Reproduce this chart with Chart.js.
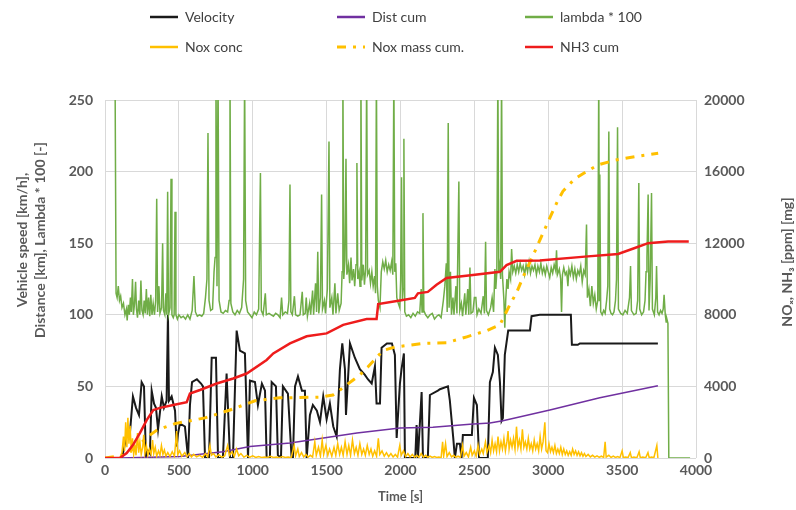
<!DOCTYPE html>
<html>
<head>
<meta charset="utf-8">
<title>Vehicle test – NOx / NH3</title>
<script src="https://cdn.jsdelivr.net/npm/chart.js@4.4.0/dist/chart.umd.min.js"></script>
<style>
  body { margin: 0; background: #fff; }
  #wrap { position: relative; width: 796px; height: 510px; }
  #chart { position: absolute; left: 0; top: 0; }
  .legend-item { position: absolute; height: 18px; line-height: 18px; font: 14px Lato, sans-serif; color: #404040; white-space: nowrap; }
  .legend-item svg { position: absolute; left: -35px; top: 0; }
</style>
</head>
<body>
<div id="wrap">
  <canvas id="chart" width="796" height="510"></canvas>
  <div id="legend"></div>
</div>
<script>
// Time axis / tick settings
const xTicks = [0, 500, 1000, 1500, 2000, 2500, 3000, 3500, 4000];
const leftTicks = [0, 50, 100, 150, 200, 250];
const rightTicks = [0, 4000, 8000, 12000, 16000, 20000];

// Axis titles
const leftTitle = ['Vehicle speed [km/h],', 'Distance [km], Lambda * 100 [-]'];
const rightTitle = 'NOₓ, NH₃ [ppm] [mg]';

// Velocity [km/h]
const velT = [0, 115, 149, 169, 189, 210, 230, 248, 264, 277, 291, 304, 316, 332, 345, 359, 384, 399, 417, 426, 433, 451, 474, 485, 494, 507, 541, 562, 575, 589, 622, 650, 663, 677, 704, 722, 751, 765, 798, 823, 846, 866, 891, 913, 947, 968, 981, 1015, 1035, 1062, 1083, 1094, 1116, 1128, 1157, 1170, 1191, 1204, 1238, 1263, 1272, 1286, 1306, 1333, 1353, 1365, 1387, 1407, 1434, 1455, 1477, 1500, 1522, 1545, 1568, 1590, 1606, 1624, 1631, 1658, 1691, 1725, 1759, 1779, 1805, 1827, 1838, 1861, 1872, 1908, 1942, 1962, 1974, 1996, 2007, 2023, 2030, 2077, 2100, 2109, 2118, 2143, 2152, 2185, 2199, 2253, 2267, 2321, 2334, 2357, 2368, 2382, 2402, 2413, 2422, 2483, 2497, 2517, 2532, 2591, 2605, 2625, 2639, 2659, 2673, 2684, 2693, 2706, 2729, 2876, 2887, 2943, 3153, 3160, 3200, 3214, 3742];
const velV = [0, 0, 17, 18, 43, 35, 30, 53, 50, 0, 5, 3, 47, 38, 35, 20, 43, 35, 40, 100, 40, 43, 33, 8, 17, 24, 22, 0, 37, 53, 55, 52, 50, 0, 0, 70, 70, 0, 0, 59, 0, 0, 89, 75, 73, 0, 54, 53, 37, 52, 47, 0, 0, 53, 50, 2, 0, 50, 45, 0, 0, 50, 57, 47, 47, 0, 30, 37, 33, 25, 43, 27, 38, 22, 15, 62, 80, 62, 30, 80, 70, 62, 58, 55, 52, 64, 38, 38, 77, 80, 80, 72, 14, 52, 62, 73, 0, 0, 0, 23, 0, 46, 0, 0, 44, 47, 48, 50, 40, 14, 0, 10, 10, 0, 16, 16, 42, 37, 0, 0, 53, 60, 77, 72, 53, 26, 28, 72, 89, 89, 99, 100, 100, 79, 79, 80, 80];

// Cumulative distance [km]
const distT = [100, 507, 798, 981, 1252, 1705, 1996, 2219, 2470, 2605, 2693, 3011, 3349, 3742];
const distV = [0, 1, 4.4, 8, 10.5, 17.5, 21, 21.5, 23.5, 24.4, 26, 33.5, 42, 50.5];

// Lambda * 100 [-]
const lamT = [68, 75, 82, 90, 98, 106, 115, 125, 135, 145, 150, 158, 165, 172, 178, 186, 192, 200, 207, 213, 220, 228, 236, 243, 250, 258, 265, 272, 280, 287, 295, 303, 310, 318, 326, 335, 343, 350, 356, 365, 372, 383, 390, 396, 405, 412, 418, 424, 430, 440, 447, 453, 462, 468, 474, 480, 490, 500, 515, 530, 545, 560, 575, 590, 602, 612, 625, 640, 655, 668, 680, 690, 697, 704, 715, 728, 738, 745, 751, 758, 765, 772, 785, 800, 815, 830, 840, 846, 852, 865, 880, 895, 910, 925, 938, 945, 952, 965, 980, 995, 1010, 1025, 1040, 1052, 1058, 1070, 1085, 1092, 1110, 1125, 1140, 1155, 1170, 1185, 1195, 1203, 1220, 1235, 1245, 1252, 1258, 1268, 1282, 1290, 1305, 1320, 1335, 1342, 1355, 1362, 1370, 1385, 1392, 1405, 1412, 1425, 1432, 1440, 1447, 1458, 1466, 1472, 1485, 1492, 1505, 1516, 1522, 1535, 1543, 1556, 1563, 1575, 1585, 1598, 1605, 1610, 1616, 1624, 1631, 1637, 1648, 1656, 1665, 1672, 1682, 1690, 1699, 1705, 1711, 1720, 1726, 1732, 1738, 1748, 1756, 1764, 1771, 1777, 1788, 1797, 1806, 1815, 1825, 1831, 1837, 1843, 1850, 1861, 1870, 1880, 1890, 1900, 1910, 1920, 1930, 1940, 1948, 1955, 1961, 1968, 1975, 1985, 1995, 2001, 2007, 2013, 2018, 2023, 2029, 2040, 2055, 2070, 2085, 2100, 2115, 2130, 2140, 2146, 2152, 2158, 2170, 2185, 2200, 2215, 2230, 2245, 2260, 2275, 2290, 2300, 2310, 2316, 2323, 2329, 2338, 2345, 2355, 2362, 2375, 2382, 2395, 2401, 2412, 2420, 2435, 2442, 2455, 2462, 2470, 2477, 2490, 2500, 2510, 2518, 2530, 2545, 2560, 2568, 2576, 2582, 2595, 2610, 2620, 2630, 2639, 2645, 2652, 2659, 2665, 2672, 2678, 2684, 2690, 2700, 2706, 2712, 2720, 2728, 2735, 2745, 2752, 2760, 2770, 2780, 2790, 2800, 2810, 2820, 2830, 2840, 2850, 2860, 2870, 2880, 2890, 2900, 2910, 2920, 2930, 2940, 2950, 2960, 2970, 2980, 2990, 3000, 3010, 3020, 3030, 3040, 3050, 3056, 3062, 3075, 3084, 3090, 3096, 3105, 3115, 3125, 3133, 3140, 3150, 3160, 3170, 3180, 3190, 3200, 3210, 3220, 3230, 3240, 3250, 3259, 3265, 3275, 3285, 3295, 3305, 3315, 3325, 3335, 3342, 3346, 3349, 3355, 3365, 3375, 3385, 3395, 3403, 3410, 3416, 3425, 3435, 3445, 3455, 3462, 3469, 3475, 3490, 3505, 3520, 3535, 3550, 3557, 3563, 3580, 3595, 3605, 3613, 3619, 3632, 3645, 3655, 3662, 3668, 3676, 3682, 3690, 3699, 3705, 3718, 3728, 3733, 3740, 3750, 3760, 3770, 3778, 3784, 3792, 3798, 3803, 3810, 3816, 3960];
const lamV = [270, 115, 112, 120, 110, 113, 105, 108, 100, 104, 96, 107, 100, 112, 102, 125, 100, 108, 123, 104, 98, 110, 100, 124, 103, 100, 110, 101, 118, 100, 112, 99, 114, 100, 108, 100, 110, 181, 102, 120, 101, 105, 150, 103, 100, 115, 100, 186, 100, 105, 195, 100, 98, 100, 172, 100, 97, 100, 98, 99, 97, 100, 97, 103, 127, 102, 99, 100, 99, 101, 112, 125, 227, 110, 103, 104, 130, 140, 270, 120, 270, 110, 102, 101, 103, 102, 110, 270, 108, 102, 100, 103, 101, 105, 125, 270, 110, 102, 100, 98, 102, 100, 104, 199, 103, 100, 115, 100, 101, 100, 99, 101, 100, 98, 112, 100, 102, 101, 110, 191, 102, 100, 113, 100, 99, 100, 116, 100, 101, 112, 99, 108, 100, 117, 100, 122, 102, 144, 101, 112, 184, 104, 110, 101, 118, 221, 105, 112, 100, 122, 101, 115, 103, 108, 130, 270, 125, 138, 209, 128, 135, 122, 140, 124, 132, 120, 135, 206, 125, 130, 120, 270, 124, 135, 121, 132, 270, 128, 131, 122, 130, 120, 127, 115, 270, 120, 110, 105, 130, 137, 132, 138, 130, 135, 131, 137, 128, 270, 130, 136, 112, 108, 105, 124, 196, 110, 118, 223, 102, 99, 100, 98, 101, 99, 102, 101, 118, 102, 171, 103, 100, 98, 100, 101, 97, 99, 100, 98, 110, 120, 136, 102, 234, 105, 130, 100, 112, 100, 120, 101, 193, 103, 108, 99, 115, 100, 118, 100, 133, 101, 102, 112, 112, 100, 104, 101, 113, 101, 151, 103, 100, 105, 112, 102, 132, 118, 130, 270, 130, 135, 125, 270, 128, 110, 91, 110, 125, 118, 130, 125, 146, 130, 134, 129, 135, 130, 136, 131, 134, 128, 135, 130, 137, 129, 134, 131, 135, 128, 134, 130, 136, 129, 133, 128, 134, 130, 126, 133, 129, 135, 131, 145, 128, 132, 125, 102, 128, 133, 128, 130, 120, 132, 128, 134, 126, 132, 125, 131, 128, 134, 123, 131, 128, 163, 112, 118, 106, 120, 108, 114, 104, 110, 270, 110, 198, 102, 100, 103, 101, 110, 120, 228, 104, 101, 100, 102, 110, 125, 231, 104, 101, 100, 103, 101, 112, 134, 103, 100, 101, 110, 192, 104, 100, 102, 110, 130, 140, 184, 103, 125, 185, 104, 100, 112, 134, 102, 100, 103, 101, 104, 114, 100, 95, 97, 94, 0, 0];

// NOx concentration [ppm]
const noxT = [0, 100, 115, 125, 132, 140, 148, 155, 162, 170, 178, 186, 194, 202, 210, 220, 228, 236, 245, 255, 262, 270, 280, 290, 300, 312, 322, 330, 340, 350, 362, 372, 382, 392, 402, 412, 425, 440, 455, 470, 485, 492, 505, 520, 540, 555, 570, 585, 600, 620, 640, 660, 680, 695, 710, 720, 735, 750, 770, 790, 810, 830, 842, 860, 875, 890, 905, 920, 940, 960, 980, 1000, 1020, 1040, 1060, 1080, 1100, 1120, 1140, 1160, 1180, 1200, 1220, 1240, 1260, 1280, 1290, 1305, 1315, 1330, 1345, 1360, 1375, 1390, 1405, 1420, 1430, 1445, 1458, 1470, 1480, 1495, 1508, 1520, 1535, 1550, 1562, 1575, 1588, 1600, 1612, 1625, 1638, 1650, 1662, 1675, 1688, 1700, 1712, 1725, 1738, 1750, 1762, 1775, 1788, 1800, 1812, 1825, 1838, 1850, 1860, 1875, 1890, 1905, 1920, 1935, 1950, 1965, 1980, 1995, 2005, 2020, 2035, 2050, 2065, 2080, 2095, 2110, 2125, 2140, 2155, 2170, 2185, 2200, 2215, 2230, 2245, 2260, 2275, 2285, 2292, 2305, 2315, 2330, 2345, 2360, 2375, 2390, 2405, 2420, 2430, 2445, 2460, 2475, 2485, 2500, 2512, 2525, 2535, 2550, 2560, 2575, 2585, 2600, 2610, 2620, 2630, 2640, 2650, 2660, 2670, 2680, 2690, 2700, 2710, 2720, 2728, 2735, 2745, 2755, 2765, 2775, 2785, 2795, 2805, 2815, 2825, 2835, 2845, 2855, 2865, 2875, 2885, 2895, 2905, 2915, 2925, 2935, 2945, 2955, 2965, 2977, 2985, 2995, 3005, 3015, 3025, 3035, 3045, 3055, 3065, 3075, 3085, 3095, 3105, 3115, 3125, 3135, 3145, 3155, 3165, 3175, 3185, 3195, 3205, 3215, 3225, 3235, 3245, 3255, 3270, 3285, 3300, 3315, 3330, 3345, 3360, 3375, 3385, 3392, 3410, 3425, 3440, 3455, 3470, 3485, 3500, 3508, 3525, 3540, 3555, 3563, 3580, 3600, 3615, 3623, 3640, 3660, 3675, 3683, 3700, 3715, 3735, 3742];
const noxV = [0, 0, 300, 1200, 400, 2000, 600, 2250, 800, 1800, 300, 1100, 200, 700, 150, 1400, 300, 900, 200, 600, 1300, 250, 700, 150, 500, 200, 1000, 250, 600, 100, 400, 150, 700, 200, 450, 100, 300, 80, 350, 100, 1500, 200, 400, 100, 300, 80, 250, 60, 200, 60, 150, 40, 250, 60, 700, 150, 250, 60, 180, 50, 120, 700, 150, 350, 80, 500, 120, 250, 50, 150, 40, 120, 30, 80, 30, 60, 30, 90, 30, 60, 20, 80, 30, 50, 20, 700, 120, 500, 80, 300, 60, 200, 50, 150, 50, 900, 150, 600, 100, 1000, 200, 700, 150, 500, 100, 600, 150, 800, 200, 600, 150, 900, 200, 700, 150, 1000, 250, 600, 150, 800, 200, 500, 150, 700, 200, 500, 100, 400, 100, 1100, 200, 400, 100, 300, 80, 250, 60, 200, 50, 700, 150, 400, 80, 250, 60, 200, 50, 150, 40, 250, 50, 150, 40, 100, 30, 80, 30, 60, 20, 900, 100, 800, 80, 300, 60, 150, 40, 100, 30, 700, 100, 300, 60, 600, 150, 400, 100, 700, 200, 500, 250, 900, 300, 700, 300, 1000, 400, 800, 350, 1200, 400, 900, 500, 1100, 400, 900, 1500, 500, 1000, 600, 1100, 500, 1750, 600, 1000, 500, 1600, 600, 900, 500, 1100, 500, 800, 400, 1000, 500, 800, 400, 1200, 500, 900, 2000, 400, 300, 800, 350, 600, 300, 700, 250, 500, 250, 600, 200, 500, 200, 400, 150, 350, 150, 500, 200, 400, 150, 350, 120, 300, 100, 250, 80, 200, 60, 150, 50, 120, 40, 100, 30, 900, 50, 150, 30, 100, 30, 80, 20, 400, 30, 60, 20, 300, 20, 60, 20, 350, 20, 50, 20, 300, 20, 60, 20, 700, 0];

// NOx mass cumulative [mg]
const noxMassT = [0, 135, 237, 304, 352, 474, 677, 846, 1015, 1184, 1455, 1543, 1590, 1725, 1779, 1881, 1962, 2152, 2314, 2449, 2585, 2673, 2740, 2788, 2828, 2896, 2950, 3010, 3060, 3099, 3180, 3259, 3336, 3451, 3586, 3744];
const noxMassV = [0, 160, 800, 1280, 1560, 1920, 2240, 2680, 3200, 3360, 3400, 3520, 3800, 4640, 5080, 6000, 6200, 6400, 6440, 6770, 7120, 7440, 8560, 9280, 10080, 11300, 12300, 13400, 14300, 14900, 15600, 16000, 16370, 16640, 16830, 17020];

// NH3 cumulative [mg]
const nh3T = [0, 101, 147, 189, 237, 282, 327, 372, 462, 553, 575, 643, 756, 868, 959, 1094, 1139, 1252, 1365, 1500, 1612, 1771, 1838, 1849, 1996, 2097, 2118, 2185, 2244, 2312, 2490, 2673, 2718, 2786, 2943, 3248, 3473, 3586, 3676, 3811, 3951];
const nh3V = [0, 0, 280, 720, 1400, 2120, 2680, 2800, 2960, 3120, 3600, 3800, 4160, 4440, 4720, 5480, 5840, 6400, 6800, 6960, 7440, 7760, 7760, 8600, 8800, 8940, 9200, 9280, 9680, 10060, 10220, 10400, 10780, 11020, 11040, 11250, 11400, 11730, 12000, 12100, 12100];

// Series config (labels, colours, widths, axes)
const series = [
  { label: 'NH3 cum', t: nh3T, v: nh3V, color: '#ee1c1c', width: 2.5, axis: 'y1' },
  { label: 'Nox mass cum.', t: noxMassT, v: noxMassV, color: '#ffc000', width: 3, axis: 'y1', dash: [9, 7, 3, 7] },
  { label: 'Nox conc', t: noxT, v: noxV, color: '#ffc000', width: 1.5, axis: 'y1' },
  { label: 'lambda * 100', t: lamT, v: lamV, color: '#70ad47', width: 1.5, axis: 'y' },
  { label: 'Dist cum', t: distT, v: distV, color: '#7030a0', width: 1.5, axis: 'y' },
  { label: 'Velocity', t: velT, v: velV, color: '#1a1a1a', width: 2, axis: 'y' }
];

// Legend layout (two rows, three columns)
const legendOrder = ['Velocity', 'Dist cum', 'lambda * 100', 'Nox conc', 'Nox mass cum.', 'NH3 cum'];

const tickFont = { family: 'Lato, sans-serif', size: 14, weight: 'bold' };
const titleFont = { family: 'Lato, sans-serif', size: 13, weight: 'bold', lineHeight: 1.35 };
const gridColor = '#d9d9d9';
const textColor = '#595959';

function toPoints(ts, vs) {
  return ts.map((t, i) => ({ x: t, y: vs[i] }));
}

// Plain numbers, no thousands separator
function plainTick(value) {
  return String(value);
}

// Y axis titles, both read bottom-to-top like the original
const axisTitles = {
  id: 'axisTitles',
  afterDraw(chart) {
    const c = chart.ctx;
    const midLeft = 240;
    const midRight = 262;
    c.save();
    c.font = 'bold 14px Lato, sans-serif';
    c.fillStyle = textColor;
    c.textAlign = 'center';
    c.textBaseline = 'middle';
    leftTitle.forEach((line, i) => {
      c.save();
      c.translate(22 + i * 18, midLeft);
      c.rotate(-Math.PI / 2);
      c.fillText(line, 0, 0);
      c.restore();
    });
    c.translate(787, midRight);
    c.rotate(-Math.PI / 2);
    c.fillText(rightTitle, 0, 0);
    c.restore();
  }
};

function buildLegend() {
  const legend = document.getElementById('legend');
  const colX = [185, 372, 560];
  const rowY = [17, 47];
  legendOrder.forEach((name, i) => {
    const s = series.find(d => d.label === name);
    const item = document.createElement('div');
    item.className = 'legend-item';
    item.style.left = colX[i % 3] + 'px';
    item.style.top = (rowY[Math.floor(i / 3)] - 9) + 'px';
    const dash = s.dash ? `stroke-dasharray="9 7 3 7"` : '';
    item.innerHTML = `<svg width="30" height="18"><line x1="0" y1="9" x2="28" y2="9" stroke="${s.color}" stroke-width="${s.dash ? 3 : 2.5}" ${dash}/></svg>${name}`;
    legend.appendChild(item);
  });
}

function initChart() {
  const ctx = document.getElementById('chart').getContext('2d');

  new Chart(ctx, {
    type: 'line',
    data: {
      datasets: series.map((s, i) => ({
        label: s.label,
        data: toPoints(s.t, s.v),
        yAxisID: s.axis,
        borderColor: s.color,
        backgroundColor: s.color,
        borderWidth: s.width,
        borderDash: s.dash || [],
        pointRadius: 0,
        tension: 0,
        fill: false,
        order: i + 1
      }))
    },
    options: {
      responsive: false,
      animation: false,
      events: [],
      devicePixelRatio: 1,
      layout: { padding: { top: 100, left: 0, right: 0, bottom: 0 } },
      plugins: {
        legend: { display: false },
        tooltip: { enabled: false }
      },
      scales: {
        x: {
          type: 'linear',
          min: 0,
          max: 4000,
          afterBuildTicks: scale => { scale.ticks = xTicks.map(v => ({ value: v })); },
          afterFit: scale => { scale.height = 52; },
          ticks: { font: tickFont, color: textColor, padding: 4, maxRotation: 0, callback: plainTick },
          grid: { color: gridColor, drawTicks: false },
          border: { display: false },
          title: { display: true, text: 'Time [s]', font: titleFont, color: textColor, padding: { top: 0, bottom: 4 } }
        },
        y: {
          position: 'left',
          min: 0,
          max: 250,
          afterBuildTicks: scale => { scale.ticks = leftTicks.map(v => ({ value: v })); },
          afterFit: scale => { scale.width = 105; },
          ticks: { font: tickFont, color: textColor, padding: 12, callback: plainTick },
          grid: { color: gridColor, drawTicks: false },
          border: { display: false }
        },
        y1: {
          position: 'right',
          min: 0,
          max: 20000,
          afterBuildTicks: scale => { scale.ticks = rightTicks.map(v => ({ value: v })); },
          afterFit: scale => { scale.width = 100; },
          ticks: { font: tickFont, color: textColor, padding: 8, callback: plainTick },
          grid: { drawOnChartArea: false, drawTicks: false },
          border: { display: false }
        }
      }
    },
    plugins: [axisTitles]
  });
}

document.addEventListener('DOMContentLoaded', () => {
  buildLegend();
  initChart();
});
</script>
</body>
</html>
